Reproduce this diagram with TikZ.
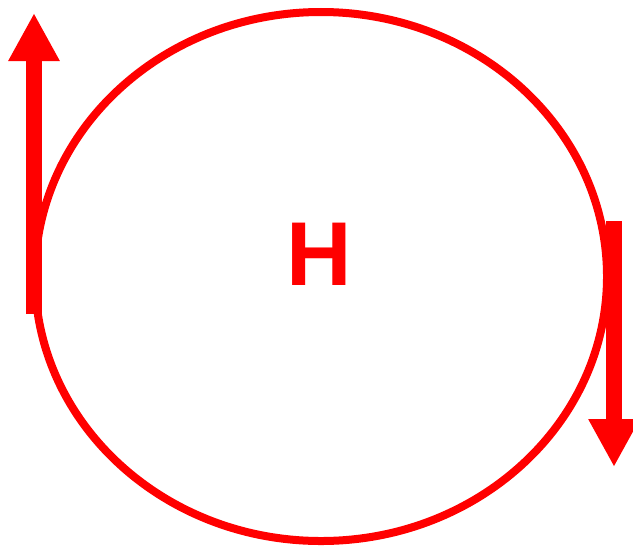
\documentclass[tikz,border=0pt]{standalone}
\usepackage{fontspec}
\setmainfont{Liberation Sans}
\usepackage{xcolor}
\usetikzlibrary{arrows.meta,positioning,calc}

\begin{document}
\begin{tikzpicture}[
    flow/.style={red, line width=0.165cm, -{Triangle[length=4.8mm, width=4.8mm]}}
  ]
    \useasboundingbox (0,0) rectangle (6.33,5.45);

    % orbit
    \draw[red, line width=0.08cm] (3.21,2.685) ellipse [x radius=2.86, y radius=2.645];

    % label
    \node[red, inner sep=0pt, font=\bfseries\fontsize{25.8pt}{26pt}\selectfont] (h) at (3.195,2.905) {H};

    % in and out
    \draw[flow] (0.34,2.31) -- (0.34,5.32);
    \draw[flow] (6.14,3.24) -- (6.14,0.78);
\end{tikzpicture}
\end{document}
